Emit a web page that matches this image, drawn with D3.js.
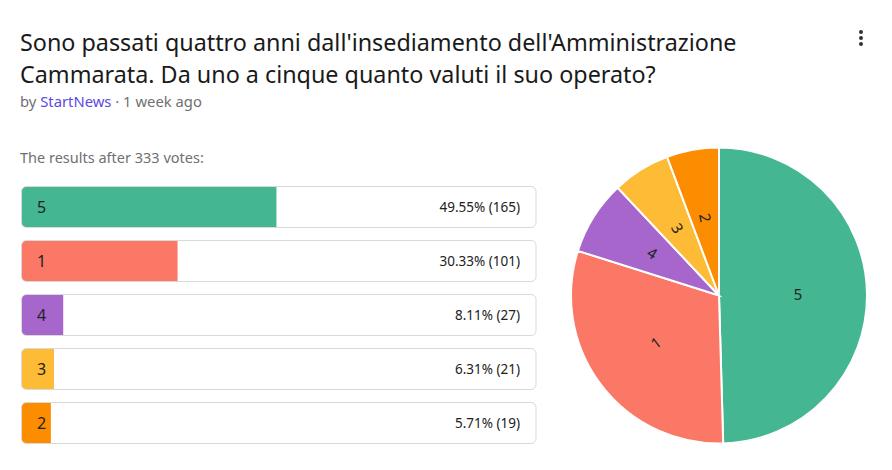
<!DOCTYPE html>
<meta charset="utf-8">
<script src="https://cdn.jsdelivr.net/npm/d3@7"></script>
<style>
body { margin: 0; background: #fff; }
text { font-family: "Noto Sans", "Open Sans", sans-serif; }
</style>
<body>
<script>

var width = 892
var height = 470

// poll answers, in the order they are listed
var labels = ["5", "1", "4", "3", "2"]
var votes = [165, 101, 27, 21, 19]
var colors = ["#44b792", "#fa7865", "#a666cc", "#fdbb36", "#fc8c00"]

var titleLines = ["Sono passati quattro anni dall'insediamento dell'Amministrazione",
                  "Cammarata. Da uno a cinque quanto valuti il suo operato?"]

var total = d3.sum(votes)
var data = labels.map(function(l, i) { return {label: l, votes: votes[i], color: colors[i]} })

var svg = d3.select("body").append("svg")
            .attr("width", width)
            .attr("height", height)

// header
svg.selectAll(".title")
    .data(titleLines)
    .enter().append("text")
      .attr("class", "title")
      .attr("x", 20)
      .attr("y", function(d, i) { return 51 + i * 32 })
      .style("font-size", "22px")
      .style("fill", "#1a1a1a")
      .text(function(d) { return d })

// fit title width to the reference (Segoe-like narrow font)
svg.selectAll(".title").each(function(d, i) {
  if (i == 0) {
    var w = this.getComputedTextLength()
    var fs = 22 * 717 / w
    svg.selectAll(".title").style("font-size", fs + "px")
  }
})

var by = svg.append("text").attr("x", 20).attr("y", 107)
            .style("font-size", "14.8px").style("fill", "#707070")
by.append("tspan").text("by ")
by.append("tspan").style("fill", "#5b48e6").text("StartNews")
by.append("tspan").text(" · 1 week ago")

svg.append("text").attr("x", 20).attr("y", 163)
    .style("font-size", "14.5px").style("fill", "#707070")
    .text("The results after " + total + " votes:")

// kebab menu
svg.selectAll(".dot")
    .data([32, 38, 44])
    .enter().append("circle")
      .attr("cx", 861).attr("cy", function(d) { return d }).attr("r", 2)
      .style("fill", "#333")

// bars
var x = d3.scaleLinear().domain([0, 1]).range([0, 514.5])
var y = d3.scaleBand().domain(labels).range([186.5, 443.5]).paddingInner(13 / 54).paddingOuter(0)

svg.append("defs").selectAll("clipPath")
    .data(data)
    .enter().append("clipPath")
      .attr("id", function(d, i) { return "clip" + i })
    .append("rect")
      .attr("x", 21.5).attr("y", function(d) { return y(d.label) })
      .attr("width", x(1)).attr("height", y.bandwidth())
      .attr("rx", 5)

var row = svg.selectAll(".row")
    .data(data)
    .enter().append("g")
      .attr("class", "row")

row.append("rect")
    .attr("clip-path", function(d, i) { return "url(#clip" + i + ")" })
    .attr("x", 21.5)
    .attr("y", function(d) { return y(d.label) })
    .attr("width", function(d) { return x(d.votes / total) })
    .attr("height", y.bandwidth())
    .style("fill", function(d) { return d.color })

row.append("rect")
    .attr("x", 21.5)
    .attr("y", function(d) { return y(d.label) })
    .attr("width", x(1))
    .attr("height", y.bandwidth())
    .attr("rx", 5)
    .style("fill", "none")
    .style("stroke", "#d9d9d9")
    .style("stroke-width", 1)

row.append("text")
    .attr("x", 37)
    .attr("y", function(d) { return y(d.label) + y.bandwidth() / 2 })
    .attr("dy", "0.35em")
    .style("font-size", "16px")
    .style("fill", "#222")
    .text(function(d) { return d.label })

row.append("text")
    .attr("x", 520)
    .attr("y", function(d) { return y(d.label) + y.bandwidth() / 2 })
    .attr("dy", "0.35em")
    .attr("text-anchor", "end")
    .style("font-size", "13.5px")
    .style("fill", "#222")
    .text(function(d) { return d3.format(".2f")(d.votes / total * 100) + "% (" + d.votes + ")" })

// pie
var radius = 148
var pie = d3.pie().sort(null).value(function(d) { return d.votes })
var arc = d3.arc().innerRadius(0).outerRadius(radius)
var labelArc = d3.arc().innerRadius(79).outerRadius(79)

var g = svg.append("g").attr("transform", "translate(719,295.5)")

g.selectAll(".slice")
    .data(pie(data))
    .enter().append("path")
      .attr("class", "slice")
      .attr("d", arc)
      .style("fill", function(d) { return d.data.color })
      .style("stroke", "#fff")
      .style("stroke-width", 2)

g.selectAll(".plabel")
    .data(pie(data))
    .enter().append("text")
      .attr("class", "plabel")
      .attr("transform", function(d) {
        var c = labelArc.centroid(d)
        var a = (d.startAngle + d.endAngle) / 2 * 180 / Math.PI - 90
        if (a > 90) a -= 180
        if (a < -90) a += 180
        return "translate(" + c + ") rotate(" + a + ")"
      })
      .attr("text-anchor", "middle")
      .attr("dy", "0.35em")
      .style("font-size", "15px")
      .style("fill", "#222")
      .text(function(d) { return d.data.label })

</script>
</body>
